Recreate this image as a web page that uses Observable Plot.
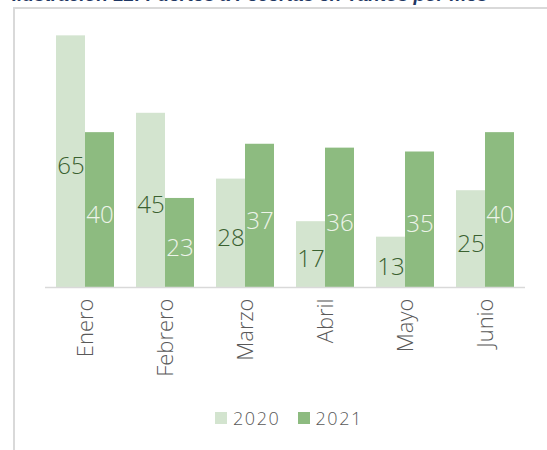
<!DOCTYPE html>
<html>
<head>
<meta charset="utf-8">
<script src="https://cdn.jsdelivr.net/npm/d3@7"></script>
<script src="https://cdn.jsdelivr.net/npm/@observablehq/plot@0.6"></script>
<style>
  html, body { margin: 0; padding: 0; background: #fff; width: 547px; height: 450px; overflow: hidden; }
  #wrap { position: relative; width: 547px; height: 450px; font-family: "Open Sans", Lato, sans-serif; }
  #title { position: absolute; left: 12px; top: -16px; font: italic bold 19px "Liberation Sans", Arial, sans-serif; color: #1f3763; white-space: nowrap; }
  #box { position: absolute; left: 13px; top: 7px; width: 540px; height: 450px; border-left: 2px solid #d9d9d9; border-top: 2px solid #d9d9d9; box-sizing: border-box; }
  #chart { position: absolute; left: 0; top: 0; }
  #legend { position: absolute; top: 406px; left: 215px; display: flex; align-items: center; font-size: 18px; font-weight: 300; letter-spacing: 1.6px; color: #595959; font-family: "Open Sans", Lato, sans-serif; }
  #legend .sw { width: 12px; height: 12px; display: inline-block; margin-right: 6px; }
  #legend .item { display: flex; align-items: center; margin-right: 17px; }
  #chart svg text { font-weight: 300; }
</style>
</head>
<body>
<div id="wrap">
  <div id="title">Ilustración 12: Fuertes a Fecertas en Tantos por mes</div>
  <div id="box"></div>
  <div id="chart"></div>
  <div id="legend"></div>
</div>
<script>
const months = ["Enero", "Febrero", "Marzo", "Abril", "Mayo", "Junio"];
const years = ["2020", "2021"];
const values2020 = [65, 45, 28, 17, 13, 25];
const values2021 = [40, 23, 37, 36, 35, 40];
const colors = ["#d3e4cf", "#8dbb80"];
const labelColors = ["#3a6130", "#eef4ea"];

const data = [];
months.forEach((m, i) => {
  data.push({month: m, year: years[0], value: values2020[i]});
  data.push({month: m, year: years[1], value: values2021[i]});
});

const chart = Plot.plot({
  width: 547,
  height: 400,
  marginTop: 16,
  marginBottom: 113,
  marginLeft: 43,
  marginRight: 20,
  style: {fontSize: "22px", fontFamily: "'Open Sans', Lato, sans-serif", color: "#595959", background: "transparent"},
  fx: {domain: months, paddingInner: 0.27, paddingOuter: 0.135, axis: "bottom", tickRotate: -90, tickSize: 0, tickPadding: 11, label: null},
  x: {domain: years, padding: 0, axis: null},
  y: {domain: [0, 70], axis: null},
  color: {domain: years, range: colors},
  marks: [
    Plot.barY(data, {fx: "month", x: "year", y: "value", fill: "year"}),
    Plot.ruleY([0], {stroke: "#d9d9d9", strokeWidth: 1.5, insetLeft: -11, insetRight: -11}),
    Plot.text(data.filter(d => d.year === years[0]), {fx: "month", x: "year", y: d => d.value / 2, text: d => String(d.value), fill: labelColors[0], fontSize: 24, dy: 5}),
    Plot.text(data.filter(d => d.year === years[1]), {fx: "month", x: "year", y: d => d.value / 2, text: d => String(d.value), fill: labelColors[1], fontSize: 24, dy: 5})
  ]
});
document.getElementById("chart").appendChild(chart);

const legend = document.getElementById("legend");
years.forEach((y, i) => {
  const item = document.createElement("span");
  item.className = "item";
  const sw = document.createElement("span");
  sw.className = "sw";
  sw.style.background = colors[i];
  item.appendChild(sw);
  item.appendChild(document.createTextNode(y));
  legend.appendChild(item);
});
</script>
</body>
</html>
